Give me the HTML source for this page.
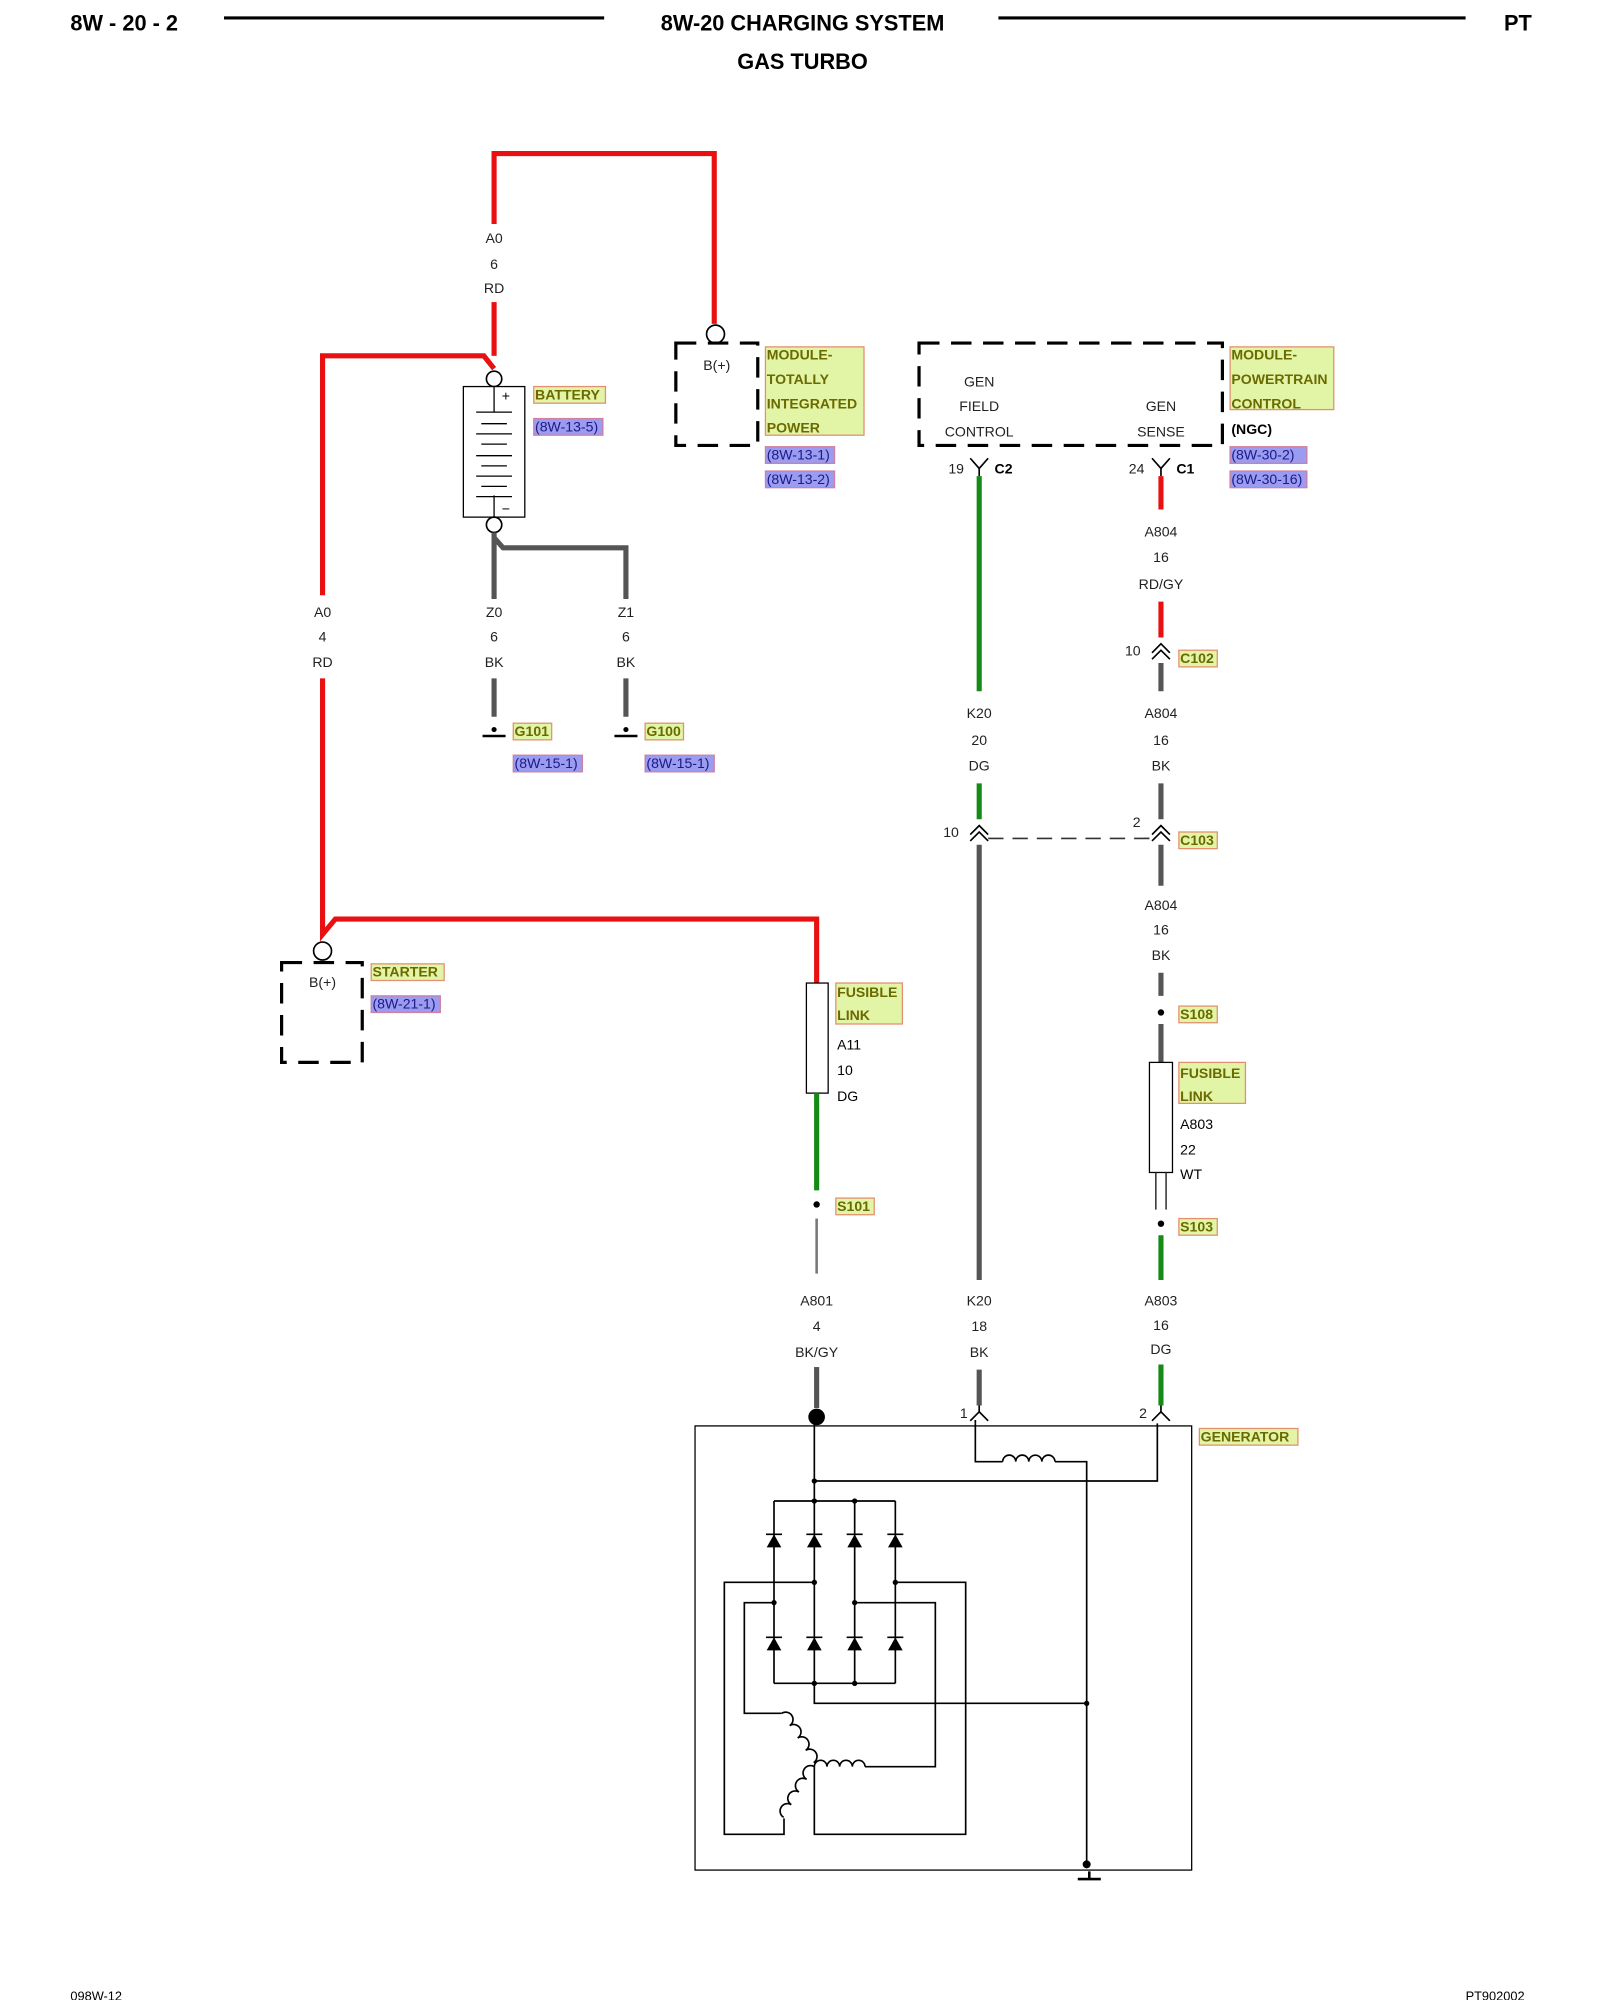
<!DOCTYPE html>
<html><head><meta charset="utf-8"><style>
html,body{margin:0;padding:0;background:#fff;width:1600px;height:2000px;overflow:hidden}
svg{display:block}
text{font-family:"Liberation Sans",Arial,sans-serif}
.l{font-size:11px;fill:#222;text-anchor:middle}
.y{font-size:11px;fill:#6a6a00;font-weight:bold}
.p{font-size:11px;fill:#1a1a8a}
.yb{fill:#e2f5a6;stroke:#e39070;stroke-width:1}
.pb{fill:#9b9bef;stroke:#d080a0;stroke-width:1}
.r{stroke:#e81010;stroke-width:4;fill:none}
.g{stroke:#555;stroke-width:4;fill:none}
.gr{stroke:#168a16;stroke-width:4;fill:none}
.k{stroke:#000;stroke-width:1.3;fill:none}
.d{stroke:#000;stroke-width:2.5;fill:none;stroke-dasharray:16 9}
</style></head><body>
<svg width="1600" height="2000" viewBox="0 0 1250 1562.5" xmlns="http://www.w3.org/2000/svg">
<!-- header -->
<text x="55" y="24" style="font-size:17px;font-weight:bold">8W - 20 - 2</text>
<line x1="175" y1="14" x2="472" y2="14" stroke="#000" stroke-width="2.5"/>
<text x="627" y="24" style="font-size:17px;font-weight:bold" text-anchor="middle">8W-20 CHARGING SYSTEM</text>
<line x1="780" y1="14" x2="1145" y2="14" stroke="#000" stroke-width="2.5"/>
<text x="1175" y="24" style="font-size:17px;font-weight:bold">PT</text>
<text x="627" y="54" style="font-size:17px;font-weight:bold" text-anchor="middle">GAS TURBO</text>

<!-- red top loop -->
<path class="r" d="M386,175 V120 H558 V253"/>
<path class="r" d="M386,236 V250"/>
<text class="l" x="386" y="190">A0</text><text class="l" x="386" y="210">6</text><text class="l" x="386" y="229">RD</text>
<circle cx="559" cy="261" r="7" fill="#fff" stroke="#000" stroke-width="1.3"/>
<path class="r" d="M386,250 V278"/>
<path class="r" d="M252,465 V278 H378 L386,288"/>
<circle cx="386" cy="296" r="6" fill="#fff" stroke="#000" stroke-width="1.3"/>
<text class="l" x="252" y="482">A0</text><text class="l" x="252" y="501">4</text><text class="l" x="252" y="521">RD</text>
<path class="r" d="M252,530 V730 L262,718 H638 V768"/>

<!-- battery -->
<rect x="362" y="302" width="48" height="102" fill="#fff" stroke="#000" stroke-width="1"/>
<line x1="386" y1="302" x2="386" y2="322" stroke="#000"/>
<line x1="386" y1="387" x2="386" y2="404" stroke="#000"/>
<text x="392" y="313" style="font-size:11px">+</text><text x="392" y="401" style="font-size:11px">−</text>
<g stroke="#000" stroke-width="1">
<line x1="372" y1="322" x2="400" y2="322"/><line x1="376" y1="331" x2="396" y2="331"/>
<line x1="372" y1="339" x2="400" y2="339"/><line x1="376" y1="347" x2="396" y2="347"/>
<line x1="372" y1="356" x2="400" y2="356"/><line x1="376" y1="364" x2="396" y2="364"/>
<line x1="372" y1="372" x2="400" y2="372"/><line x1="376" y1="380" x2="396" y2="380"/>
<line x1="372" y1="388" x2="400" y2="388"/>
</g>
<circle cx="386" cy="410" r="6" fill="#fff" stroke="#000" stroke-width="1.3"/>
<rect class="yb" x="417" y="302" width="56" height="13"/><text class="y" x="418" y="312">BATTERY</text>
<rect class="pb" x="417" y="327" width="54" height="13"/><text class="p" x="418" y="337">(8W-13-5)</text>

<!-- grounds -->
<path class="g" d="M386,416 V468 M386,420 L393,428 H489 V468"/>
<text class="l" x="386" y="482">Z0</text><text class="l" x="386" y="501">6</text><text class="l" x="386" y="521">BK</text>
<text class="l" x="489" y="482">Z1</text><text class="l" x="489" y="501">6</text><text class="l" x="489" y="521">BK</text>
<path class="g" d="M386,530 V560 M489,530 V560"/>
<g stroke="#000" stroke-width="2"><line x1="377" y1="575" x2="395" y2="575"/><line x1="480" y1="575" x2="498" y2="575"/></g>
<circle cx="386" cy="570" r="2" fill="#000"/><circle cx="489" cy="570" r="2" fill="#000"/>
<rect class="yb" x="401" y="565" width="30" height="13"/><text class="y" x="402" y="575">G101</text>
<rect class="pb" x="401" y="590" width="54" height="13"/><text class="p" x="402" y="600">(8W-15-1)</text>
<rect class="yb" x="504" y="565" width="30" height="13"/><text class="y" x="505" y="575">G100</text>
<rect class="pb" x="504" y="590" width="54" height="13"/><text class="p" x="505" y="600">(8W-15-1)</text>

<!-- TIPM -->
<rect class="d" x="528" y="268" width="64" height="80"/>
<text class="l" x="560" y="289">B(+)</text>
<rect class="yb" x="598" y="271" width="77" height="69"/>
<text class="y" x="599" y="281">MODULE-</text><text class="y" x="599" y="300">TOTALLY</text>
<text class="y" x="599" y="319">INTEGRATED</text><text class="y" x="599" y="338">POWER</text>
<rect class="pb" x="598" y="349" width="54" height="13"/><text class="p" x="599" y="359">(8W-13-1)</text>
<rect class="pb" x="598" y="368" width="54" height="13"/><text class="p" x="599" y="378">(8W-13-2)</text>

<!-- PCM -->
<rect class="d" x="718" y="268" width="237" height="80"/>
<text class="l" x="765" y="302">GEN</text><text class="l" x="765" y="321">FIELD</text><text class="l" x="765" y="341">CONTROL</text>
<text class="l" x="907" y="321">GEN</text><text class="l" x="907" y="341">SENSE</text>
<rect class="yb" x="961" y="271" width="81" height="49"/>
<text class="y" x="962" y="281">MODULE-</text><text class="y" x="962" y="300">POWERTRAIN</text><text class="y" x="962" y="319">CONTROL</text>
<text x="962" y="339" style="font-size:11px;font-weight:bold">(NGC)</text>
<rect class="pb" x="961" y="349" width="60" height="13"/><text class="p" x="962" y="359">(8W-30-2)</text>
<rect class="pb" x="961" y="368" width="60" height="13"/><text class="p" x="962" y="378">(8W-30-16)</text>

<!-- connectors at PCM -->
<path class="k" d="M758,358 L765,366 L772,358 M765,366 V372 M900,358 L907,366 L914,358 M907,366 V372"/>
<text class="l" x="747" y="370">19</text><text x="777" y="370" style="font-size:11px;font-weight:bold">C2</text>
<text class="l" x="888" y="370">24</text><text x="919" y="370" style="font-size:11px;font-weight:bold">C1</text>

<!-- K20 column -->
<path class="gr" d="M765,372 V540 M765,612 V640"/>
<text class="l" x="765" y="561">K20</text><text class="l" x="765" y="582">20</text><text class="l" x="765" y="602">DG</text>
<path class="k" d="M758,652 L765,645 L772,652 M758,657 L765,650 L772,657"/>
<text class="l" x="743" y="654">10</text>
<path class="g" d="M765,660 V1000 M765,1070 V1098"/>
<text class="l" x="765" y="1020">K20</text><text class="l" x="765" y="1040">18</text><text class="l" x="765" y="1060">BK</text>
<line x1="772" y1="655" x2="900" y2="655" stroke="#333" stroke-width="1.3" stroke-dasharray="12 7"/>

<!-- A804 column -->
<path class="r" d="M907,372 V398 M907,470 V498"/>
<text class="l" x="907" y="419">A804</text><text class="l" x="907" y="439">16</text><text class="l" x="907" y="460">RD/GY</text>
<path class="k" d="M900,510 L907,503 L914,510 M900,515 L907,508 L914,515"/>
<text class="l" x="885" y="512">10</text>
<rect class="yb" x="921" y="508" width="30" height="13"/><text class="y" x="922" y="518">C102</text>
<path class="g" d="M907,518 V540 M907,612 V640"/>
<text class="l" x="907" y="561">A804</text><text class="l" x="907" y="582">16</text><text class="l" x="907" y="602">BK</text>
<path class="k" d="M900,652 L907,645 L914,652 M900,657 L907,650 L914,657"/>
<text class="l" x="888" y="646">2</text>
<rect class="yb" x="921" y="650" width="30" height="13"/><text class="y" x="922" y="660">C103</text>
<path class="g" d="M907,660 V692 M907,760 V778 M907,800 V830"/>
<text class="l" x="907" y="711">A804</text><text class="l" x="907" y="730">16</text><text class="l" x="907" y="750">BK</text>
<circle cx="907" cy="791" r="2.5" fill="#000"/>
<rect class="yb" x="921" y="786" width="30" height="13"/><text class="y" x="922" y="796">S108</text>
<rect x="898" y="830" width="18" height="86" fill="#fff" stroke="#000" stroke-width="1"/>
<rect class="yb" x="921" y="830" width="52" height="32"/><text class="y" x="922" y="842">FUSIBLE</text><text class="y" x="922" y="860">LINK</text>
<text x="922" y="882" style="font-size:11px">A803</text><text x="922" y="902" style="font-size:11px">22</text><text x="922" y="921" style="font-size:11px">WT</text>
<path stroke="#333" stroke-width="1.2" d="M903,916 V945 M911,916 V945"/>
<circle cx="907" cy="956" r="2.5" fill="#000"/>
<rect class="yb" x="921" y="952" width="30" height="13"/><text class="y" x="922" y="962">S103</text>
<path class="gr" d="M907,965 V1000 M907,1066 V1098"/>
<text class="l" x="907" y="1020">A803</text><text class="l" x="907" y="1039">16</text><text class="l" x="907" y="1058">DG</text>

<!-- A11 / A801 column -->
<rect x="630" y="768" width="17" height="86" fill="#fff" stroke="#000" stroke-width="1"/>
<rect class="yb" x="653" y="768" width="52" height="32"/><text class="y" x="654" y="779">FUSIBLE</text><text class="y" x="654" y="797">LINK</text>
<text x="654" y="820" style="font-size:11px">A11</text><text x="654" y="840" style="font-size:11px">10</text><text x="654" y="860" style="font-size:11px">DG</text>
<path class="gr" d="M638,854 V930"/>
<circle cx="638" cy="941" r="2.5" fill="#000"/>
<rect class="yb" x="653" y="936" width="30" height="13"/><text class="y" x="654" y="946">S101</text>
<path d="M638,952 V995" stroke="#777" stroke-width="2"/>
<text class="l" x="638" y="1020">A801</text><text class="l" x="638" y="1040">4</text><text class="l" x="638" y="1060">BK/GY</text>
<path class="g" d="M638,1068 V1100"/>
<circle cx="638" cy="1107" r="6.5" fill="#000"/>

<!-- starter -->
<rect class="d" x="220" y="752" width="63" height="78"/>
<circle cx="252" cy="743" r="7" fill="#fff" stroke="#000" stroke-width="1.3"/>
<text class="l" x="252" y="771">B(+)</text>
<rect class="yb" x="290" y="753" width="57" height="13"/><text class="y" x="291" y="763">STARTER</text>
<rect class="pb" x="290" y="778" width="54" height="13"/><text class="p" x="291" y="788">(8W-21-1)</text>

<!-- generator -->
<path class="k" d="M758,1110 L765,1103 L772,1110 M765,1103 V1098 M900,1110 L907,1103 L914,1110 M907,1103 V1098"/>
<text class="l" x="753" y="1108">1</text><text class="l" x="893" y="1108">2</text>
<rect x="543" y="1114" width="388" height="347" fill="none" stroke="#000" stroke-width="1"/>
<rect class="yb" x="937" y="1116" width="77" height="13"/><text class="y" x="938" y="1126">GENERATOR</text>
<g transform="translate(546.875,1109.375) scale(0.26042)" fill="none" stroke="#000" stroke-width="5">
<path d="M343,0 V850 H1160"/>
<path d="M826,10 V125 H908 M1065,125 H1160 V1333"/>
<path d="M908,125 a19.6,19.6 0 0 1 39.2,0 a19.6,19.6 0 0 1 39.2,0 a19.6,19.6 0 0 1 39.2,0 a19.6,19.6 0 0 1 39.2,0"/>
<path d="M826,10 V0 M1372,10 V183 H343"/>
<path d="M222,243 H586 M222,243 V790 M464,243 V790 M586,243 V790 M222,790 H586"/>
<path d="M343,487 H73 V1243 H252 V1195"/>
<path d="M586,487 H797 V1243 H343 V1040"/>
<path d="M222,548 H133 V880 H245"/>
<path d="M464,548 H706 V1040 H495"/>
<path d="M245,880 a14,14 0 0 1 24,37 a14,14 0 0 1 24,37 a14,14 0 0 1 24,37 a14,14 0 0 1 24,37"/>
<path d="M495,1040 a19,19 0 0 0 -38,0 a19,19 0 0 0 -38,0 a19,19 0 0 0 -38,0 a19,19 0 0 0 -38,0"/>
<path d="M343,1040 a14,14 0 0 0 -23,38 a14,14 0 0 0 -23,38 a14,14 0 0 0 -23,38 a14,14 0 0 0 -23,38"/>
<g fill="#000" stroke="none">
<circle cx="343" cy="183" r="8"/><circle cx="343" cy="243" r="8"/><circle cx="464" cy="243" r="8"/>
<circle cx="343" cy="487" r="8"/><circle cx="586" cy="487" r="8"/><circle cx="222" cy="548" r="8"/><circle cx="464" cy="548" r="8"/>
<circle cx="343" cy="790" r="8"/><circle cx="464" cy="790" r="8"/><circle cx="1160" cy="850" r="8"/><circle cx="1160" cy="1333" r="12"/>
<path d="M222,343 L200,382 H244Z M343,343 L321,382 H365Z M464,343 L442,382 H486Z M586,343 L564,382 H608Z"/>
<path d="M222,652 L200,691 H244Z M343,652 L321,691 H365Z M464,652 L442,691 H486Z M586,652 L564,691 H608Z"/>
</g>
<path d="M198,343 H246 M319,343 H367 M440,343 H488 M562,343 H610 M198,652 H246 M319,652 H367 M440,652 H488 M562,652 H610"/>
</g>
<path d="M851,1462 V1468 M842,1468 H860" stroke="#000" stroke-width="2"/>

<!-- footer -->
<text x="55" y="1563" style="font-size:10px">098W-12</text>
<text x="1145" y="1563" style="font-size:10px">PT902002</text>
</svg>
</body></html>
